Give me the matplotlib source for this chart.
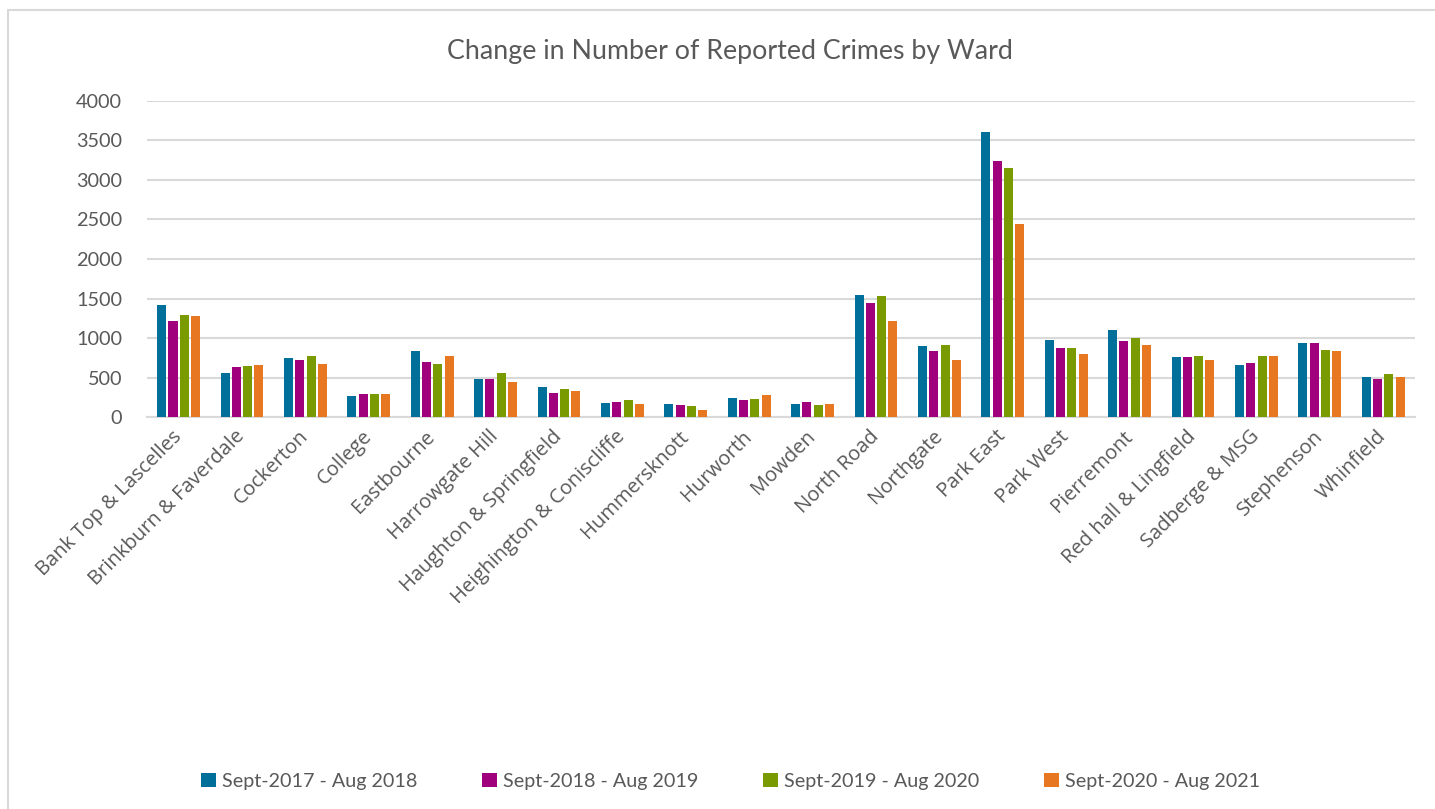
import numpy as np
import matplotlib.pyplot as plt
from matplotlib.patches import Rectangle

wards = ["Bank Top & Lascelles", "Brinkburn & Faverdale", "Cockerton", "College",
         "Eastbourne", "Harrowgate Hill", "Haughton & Springfield",
         "Heighington & Coniscliffe", "Hummersknott", "Hurworth", "Mowden",
         "North Road", "Northgate", "Park East", "Park West", "Pierremont",
         "Red hall & Lingfield", "Sadberge & MSG", "Stephenson", "Whinfield"]

series_names = ["Sept-2017 - Aug 2018", "Sept-2018 - Aug 2019",
                "Sept-2019 - Aug 2020", "Sept-2020 - Aug 2021"]

y2018 = [1419, 555, 746, 263, 835, 479, 377, 174, 161, 237, 161,
         1547, 898, 3609, 972, 1099, 757, 655, 934, 503]
y2019 = [1216, 631, 720, 288, 695, 479, 301, 186, 148, 212, 186,
         1445, 835, 3242, 871, 959, 757, 680, 934, 478]
y2020 = [1292, 644, 771, 288, 669, 555, 352, 212, 136, 225, 148,
         1534, 911, 3153, 871, 997, 769, 769, 845, 541]
y2021 = [1280, 657, 669, 288, 771, 441, 326, 161, 85, 275, 161,
         1216, 718, 2443, 795, 909, 718, 769, 833, 503]

colors = ["#00709A", "#A1007C", "#7A9A01", "#E87722"]
text_gray = "#595959"

fig = plt.figure(figsize=(14.35, 8.09), dpi=100)
ax = fig.add_axes([0.1024, 0.4845, 0.8836, 0.3907])

x = np.arange(len(wards))
step = 0.178
width = 0.142
for i, (vals, name) in enumerate(zip([y2018, y2019, y2020, y2021], series_names)):
    ax.bar(x + (i - 1.5) * step, vals, width, color=colors[i], label=name, zorder=3)

ax.set_xlim(-0.5, len(wards) - 0.5)
ax.set_ylim(0, 4000)
ax.set_yticks(range(0, 4001, 500))
ax.yaxis.grid(True, color="#D9D9D9", linewidth=1.5, zorder=0)
for s in ["top", "right", "left"]:
    ax.spines[s].set_visible(False)
ax.spines["bottom"].set_color("#D9D9D9")
ax.spines["bottom"].set_linewidth(1.5)
ax.tick_params(axis="both", length=0)
ax.tick_params(axis="y", labelsize=14.3, labelcolor=text_gray, pad=18)
for lab in ax.get_yticklabels():
    lab.set_family("Lato")

ax.set_xticks(x)
ax.set_xticklabels(wards, rotation=45, ha="right", va="center",
                   rotation_mode="anchor", fontsize=14.5, color=text_gray,
                   family="Open Sans")
ax.tick_params(axis="x", pad=12)

fig.suptitle("Change in Number of Reported Crimes by Ward", x=0.5087, y=0.952,
             fontsize=19.3, color=text_gray, family="Lato")

leg = fig.legend(loc="center", bbox_to_anchor=(0.509, 0.034), ncol=4,
                 frameon=False, prop={"family": "Lato", "size": 14.2},
                 handlelength=0.75, handleheight=0.75, handletextpad=0.3,
                 columnspacing=3.3)
for t in leg.get_texts():
    t.set_color(text_gray)

# chart border
fig.patches.append(Rectangle((8 / 1435, -0.05), 1.2, 1.05 - 10 / 809,
                             transform=fig.transFigure, fill=False,
                             edgecolor="#D9D9D9", linewidth=1.5))

fig.savefig("out.png", dpi=100)
